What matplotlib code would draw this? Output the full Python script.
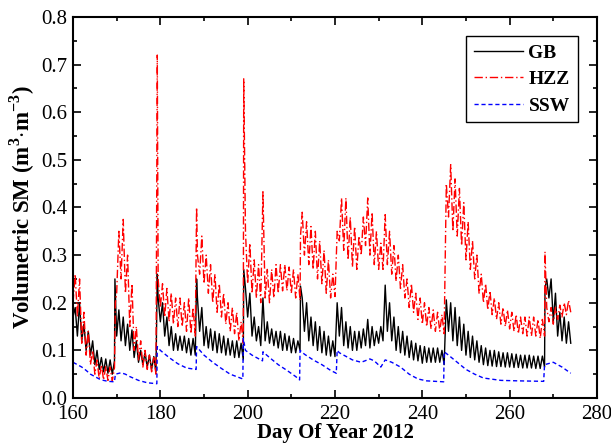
import matplotlib
matplotlib.use("Agg")
import matplotlib.pyplot as plt
import numpy as np
from matplotlib.ticker import MultipleLocator

plt.rcParams['font.family'] = ['Liberation Serif', 'DejaVu Serif']
plt.rcParams['mathtext.fontset'] = 'custom'
plt.rcParams['mathtext.rm'] = 'Liberation Serif'
plt.rcParams['mathtext.bf'] = 'Liberation Serif:bold'

# days 160..273: daily low (at d.0) and daily high (at d.5)
DAYS = list(range(160, 274))

GB_LOW = [0.17, 0.13, 0.12, 0.10, 0.09, 0.07, 0.06, 0.055, 0.052, 0.05,
          0.13, 0.12, 0.11, 0.10, 0.085, 0.075, 0.07, 0.065, 0.06, 0.055,
          0.16, 0.13, 0.11, 0.10, 0.10, 0.10, 0.095, 0.09, 0.09, 0.14,
          0.11, 0.105, 0.10, 0.095, 0.095, 0.09, 0.09, 0.085, 0.085, 0.08,
          0.17, 0.13, 0.12, 0.11, 0.12, 0.115, 0.11, 0.105, 0.10, 0.10,
          0.095, 0.095, 0.10, 0.14, 0.12, 0.11, 0.10, 0.095, 0.09, 0.088,
          0.087, 0.13, 0.11, 0.105, 0.10, 0.10, 0.105, 0.11, 0.105, 0.11,
          0.115, 0.12, 0.14, 0.12, 0.10, 0.095, 0.09, 0.085, 0.08, 0.078,
          0.073, 0.075, 0.075, 0.075, 0.075, 0.07, 0.14, 0.12, 0.11, 0.10,
          0.09, 0.085, 0.08, 0.075, 0.07, 0.068, 0.067, 0.066, 0.066, 0.065,
          0.065, 0.064, 0.064, 0.063, 0.063, 0.063, 0.062, 0.062, 0.065, 0.21,
          0.16, 0.13, 0.12, 0.115]
GB_HIGH = [0.19, 0.20, 0.155, 0.14, 0.12, 0.10, 0.085, 0.082, 0.08, 0.078,
           0.185, 0.17, 0.155, 0.143, 0.12, 0.10, 0.095, 0.09, 0.087, 0.21,
           0.20, 0.17, 0.15, 0.135, 0.13, 0.13, 0.125, 0.125, 0.21, 0.19,
           0.15, 0.145, 0.14, 0.135, 0.13, 0.125, 0.12, 0.12, 0.115, 0.23,
           0.22, 0.17, 0.15, 0.21, 0.16, 0.145, 0.14, 0.14, 0.135, 0.13,
           0.125, 0.12, 0.21, 0.20, 0.17, 0.16, 0.15, 0.14, 0.13, 0.12,
           0.20, 0.19, 0.16, 0.15, 0.14, 0.14, 0.145, 0.165, 0.15, 0.14,
           0.15, 0.237, 0.20, 0.17, 0.15, 0.14, 0.13, 0.12, 0.115, 0.11,
           0.108, 0.105, 0.105, 0.105, 0.10, 0.206, 0.20, 0.19, 0.17, 0.155,
           0.14, 0.13, 0.12, 0.11, 0.105, 0.10, 0.10, 0.097, 0.095, 0.095,
           0.093, 0.092, 0.09, 0.09, 0.09, 0.088, 0.088, 0.088, 0.25, 0.25,
           0.22, 0.18, 0.17, 0.16]
GB_SPIKE_DAY = [169.6, 179.3, 188.3, 199.1, 212.1, 268.1, 274.0]
GB_SPIKE_VAL = [0.25, 0.26, 0.25, 0.27, 0.235, 0.23, 0.115]

HZZ_LOW = [0.20, 0.17, 0.115, 0.09, 0.07, 0.05, 0.04, 0.038, 0.037, 0.036,
           0.22, 0.25, 0.22, 0.15, 0.10, 0.08, 0.065, 0.06, 0.055, 0.05,
           0.19, 0.17, 0.16, 0.155, 0.15, 0.15, 0.14, 0.135, 0.13, 0.26,
           0.24, 0.22, 0.20, 0.18, 0.17, 0.155, 0.14, 0.135, 0.12, 0.115,
           0.24, 0.22, 0.21, 0.20, 0.21, 0.20, 0.21, 0.22, 0.225, 0.225,
           0.22, 0.21, 0.205, 0.30, 0.28, 0.27, 0.25, 0.24, 0.22, 0.21,
           0.213, 0.33, 0.31, 0.29, 0.275, 0.27, 0.30, 0.32, 0.30, 0.28,
           0.27, 0.27, 0.28, 0.26, 0.245, 0.23, 0.21, 0.19, 0.18, 0.165,
           0.155, 0.15, 0.145, 0.14, 0.14, 0.135, 0.38, 0.35, 0.34, 0.32,
           0.29, 0.27, 0.25, 0.22, 0.20, 0.185, 0.175, 0.165, 0.155, 0.15,
           0.145, 0.14, 0.135, 0.135, 0.13, 0.13, 0.13, 0.125, 0.13, 0.16,
           0.155, 0.165, 0.17, 0.175]
HZZ_HIGH = [0.26, 0.25, 0.18, 0.14, 0.10, 0.08, 0.07, 0.066, 0.065, 0.064,
            0.35, 0.375, 0.30, 0.24, 0.15, 0.12, 0.10, 0.09, 0.085, 0.25,
            0.24, 0.23, 0.22, 0.21, 0.21, 0.20, 0.21, 0.19, 0.30, 0.34,
            0.30, 0.28, 0.26, 0.24, 0.22, 0.20, 0.19, 0.18, 0.16, 0.35,
            0.325, 0.29, 0.28, 0.433, 0.27, 0.27, 0.28, 0.28, 0.28, 0.275,
            0.27, 0.26, 0.39, 0.37, 0.36, 0.35, 0.33, 0.31, 0.29, 0.26,
            0.35, 0.42, 0.42, 0.38, 0.36, 0.34, 0.38, 0.42, 0.39, 0.35,
            0.325, 0.385, 0.35, 0.32, 0.30, 0.28, 0.25, 0.24, 0.22, 0.21,
            0.20, 0.19, 0.185, 0.18, 0.175, 0.45, 0.49, 0.46, 0.44, 0.41,
            0.37, 0.33, 0.30, 0.26, 0.24, 0.225, 0.21, 0.20, 0.19, 0.185,
            0.18, 0.175, 0.17, 0.17, 0.17, 0.17, 0.165, 0.165, 0.19, 0.19,
            0.19, 0.195, 0.20, 0.205]
HZZ_SPIKE_DAY = [169.7, 179.3, 188.3, 199.1, 212.1, 268.1, 274.0]
HZZ_SPIKE_VAL = [0.20, 0.72, 0.40, 0.67, 0.34, 0.307, 0.18]

SSW_DAY = [160, 161, 162, 163, 164, 165, 166, 167, 168, 169.5, 169.7, 171, 172,
           173, 175, 177, 179.2, 179.3, 180, 182, 184, 186, 188.2, 188.3, 190,
           192, 194, 196, 198.9, 199.0, 199.5, 201, 203.4, 203.5, 205, 207, 209,
           211, 211.9, 212.0, 213, 215, 217, 219, 220.3, 220.5, 221, 222, 224,
           226, 228, 229, 230.5, 231.5, 233, 235, 237, 239, 241, 244.9, 245,
           246, 248, 250, 252, 254, 258, 262, 267.8, 268, 270, 272, 274]
SSW_VAL = [0.075, 0.07, 0.065, 0.058, 0.05, 0.045, 0.04, 0.037, 0.035, 0.034,
           0.05, 0.053, 0.05, 0.045, 0.037, 0.032, 0.03, 0.108, 0.10, 0.085,
           0.072, 0.063, 0.06, 0.108, 0.09, 0.075, 0.062, 0.05, 0.04, 0.125,
           0.10, 0.09, 0.078, 0.097, 0.085, 0.07, 0.058, 0.045, 0.038, 0.10,
           0.092, 0.08, 0.07, 0.058, 0.052, 0.10, 0.095, 0.09, 0.08, 0.075,
           0.082, 0.078, 0.065, 0.08, 0.075, 0.065, 0.05, 0.04, 0.036, 0.034,
           0.097, 0.09, 0.075, 0.06, 0.05, 0.042, 0.037, 0.036, 0.035, 0.07,
           0.075, 0.065, 0.052]


def build_series(low, high, spike_day, spike_val):
    pts = []
    for d, lo, hi in zip(DAYS, low, high):
        pts.append((d, lo))
        pts.append((d + 0.5, hi))
    pts += list(zip(spike_day, spike_val))
    pts.sort()
    return [p[0] for p in pts], [p[1] for p in pts]


gb_x, gb_y = build_series(GB_LOW, GB_HIGH, GB_SPIKE_DAY, GB_SPIKE_VAL)
hzz_x, hzz_y = build_series(HZZ_LOW, HZZ_HIGH, HZZ_SPIKE_DAY, HZZ_SPIKE_VAL)

fig = plt.figure(figsize=(6.11, 4.46), dpi=100)
ax = fig.add_axes([0.1195, 0.1076, 0.8575, 0.8544])

ax.plot(gb_x, gb_y, color='black', lw=1.0, label='GB')
ax.plot(hzz_x, hzz_y, color='red', lw=1.0, dashes=(6, 2, 1, 2), label='HZZ')
ax.plot(SSW_DAY, SSW_VAL, color='blue', lw=1.0, dashes=(3, 2), label='SSW')

ax.set_xlim(160, 280)
ax.set_ylim(0, 0.8)
ax.xaxis.set_major_locator(MultipleLocator(20))
ax.xaxis.set_minor_locator(MultipleLocator(10))
ax.yaxis.set_major_locator(MultipleLocator(0.1))
ax.yaxis.set_minor_locator(MultipleLocator(0.05))
ax.yaxis.set_major_formatter(matplotlib.ticker.FormatStrFormatter('%.1f'))
ax.tick_params(which='both', direction='in', top=True, right=True, width=1.2, labelsize=15)
ax.tick_params(which='major', length=6)
ax.tick_params(which='minor', length=3)
ax.tick_params(axis='x', pad=5)
ax.tick_params(axis='y', pad=4)
for s in ax.spines.values():
    s.set_linewidth(1.5)

ax.set_xlabel('Day Of Year 2012', fontsize=15, fontweight='bold', labelpad=-1)
ax.set_ylabel(r'Volumetric SM (m$^{\mathbf{3}}$$\mathbf{\cdot}$m$^{\mathbf{-3}}$)',
              fontsize=16.5, fontweight='bold', labelpad=3)

leg = ax.legend(loc='upper right', fancybox=False, framealpha=1, edgecolor='black',
                prop={'weight': 'bold', 'size': 14}, handlelength=2.5,
                borderaxespad=1.0, labelspacing=0.45, handletextpad=0.3,
                borderpad=0.4)
leg.get_frame().set_linewidth(1.0)

plt.savefig('out.png', dpi=100)
